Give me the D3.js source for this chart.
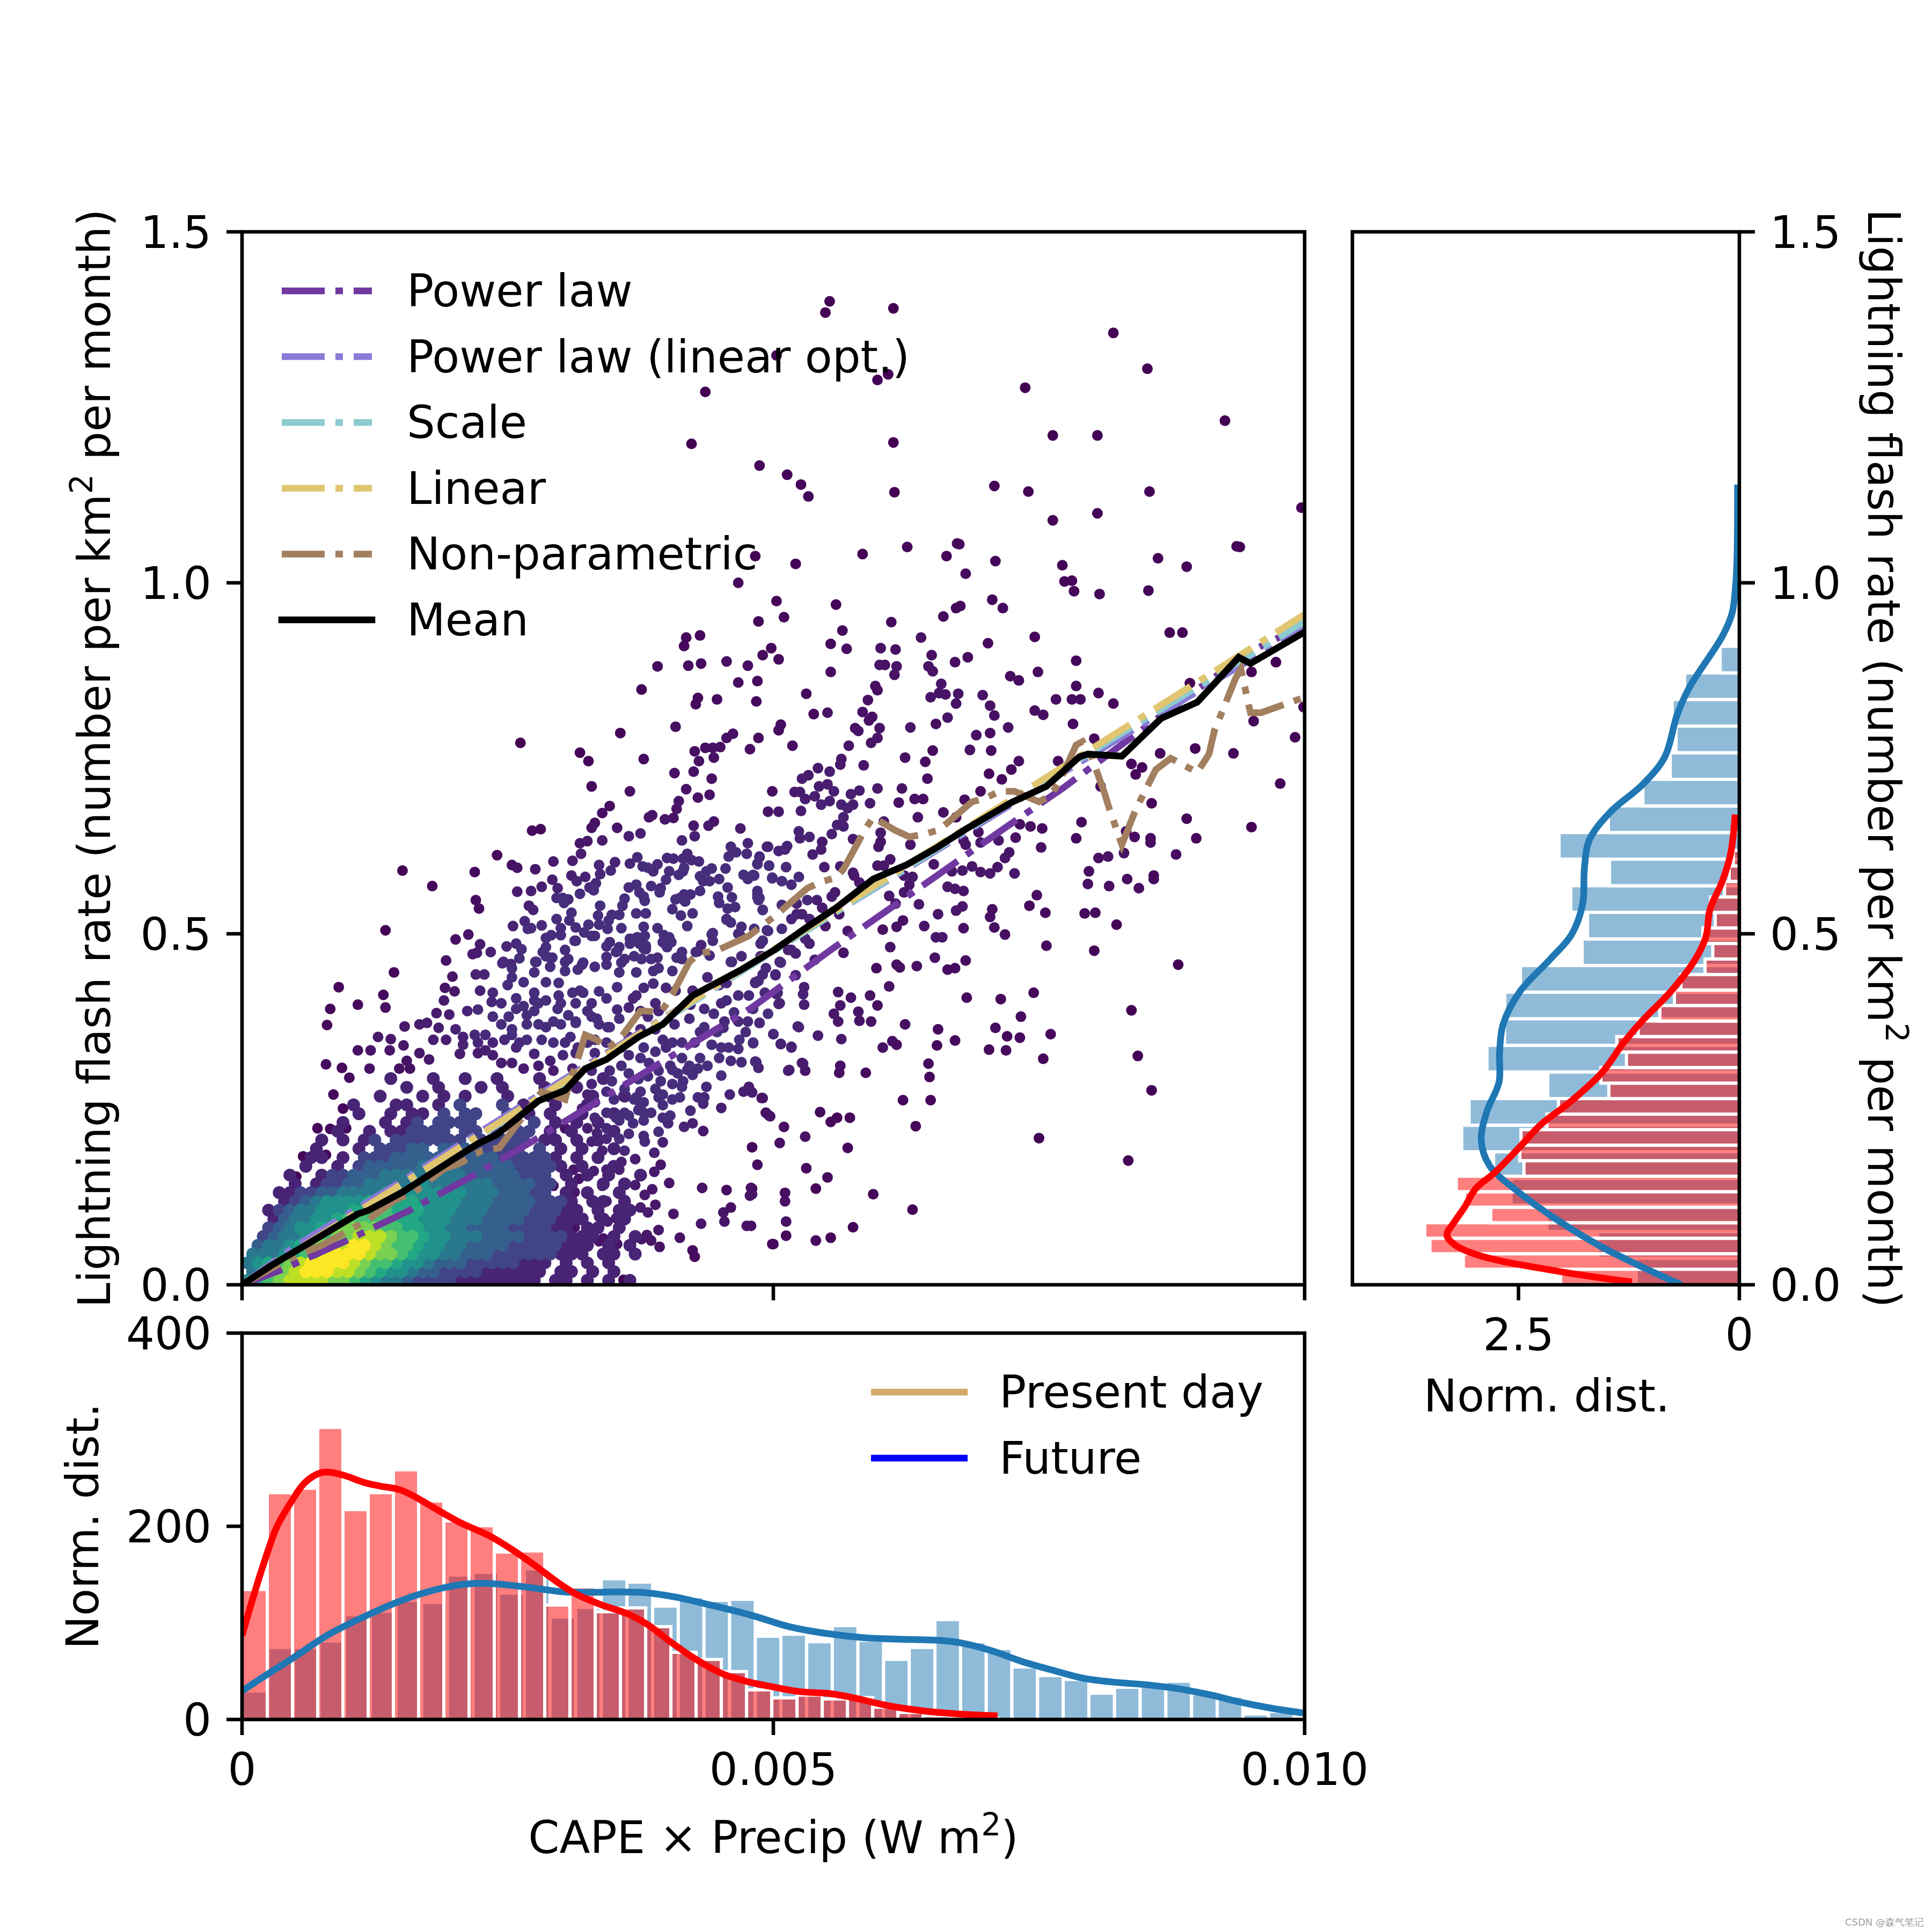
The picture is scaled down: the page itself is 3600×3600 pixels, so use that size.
<!DOCTYPE html>
<html>
<head>
<meta charset="utf-8">
<script src="https://cdn.jsdelivr.net/npm/d3@7"></script>
<style>
  body { margin: 0; background: #fff; }
  text { font-family: "DejaVu Sans"; fill: #000; }
</style>
</head>
<body>
<svg id="chart" width="3600" height="3600"></svg>
<script>
// x values below are in units of 1e-3 (W m2), y in flashes per km2 per month
const scatterPoints = [
[5.53,1.401],[5.49,1.385],[6.13,1.391],[8.20,1.356],[8.52,1.305],[5.03,1.324],[6.08,1.297],[5.98,1.289],[7.37,1.278],[9.25,1.231],
[7.63,1.210],[8.05,1.210],[6.13,1.200],[4.87,1.167],[5.13,1.154],[5.26,1.140],[5.33,1.123],[6.14,1.129],[7.08,1.138],[7.40,1.130],
[8.54,1.130],[7.63,1.089],[8.05,1.099],[9.97,1.107],[6.26,1.051],[6.75,1.055],[9.39,1.051],[4.23,1.198],[4.36,1.272],[4.83,1.038],
[5.21,1.027],[5.84,1.041],[4.67,1.000],[5.03,0.974],[5.59,0.969],[4.86,0.945],[5.10,0.951],[6.11,0.944],[5.65,0.932],[4.18,0.922],
[4.31,0.925],[4.16,0.910],[4.98,0.907],[5.54,0.913],[5.69,0.906],[6.01,0.907],[6.15,0.905],[6.39,0.922],
[6.73,1.056],[6.63,1.038],[7.09,1.031],[6.81,1.013],[7.72,1.025],[7.74,1.002],[7.81,1.003],[7.83,0.988],[8.07,0.984],[8.62,1.035],
[8.89,1.023],[9.36,1.052],[8.53,0.989],[7.06,0.976],[6.72,0.964],[6.76,0.967],[7.16,0.964],[6.60,0.952],[4.90,0.897],[5.05,0.891],
[7.02,0.914],[7.46,0.923],[6.49,0.897],[6.83,0.894],[6.71,0.887],[6.00,0.883],[6.05,0.883],[6.16,0.881],[6.14,0.869],[6.46,0.881],
[6.50,0.874],[5.54,0.873],[4.85,0.860],[7.85,0.889],[7.49,0.873],[7.23,0.867],[7.31,0.861],[8.73,0.929],[8.85,0.929],[8.92,0.857],
[9.73,0.887],[9.50,0.873],[7.85,0.853],[8.06,0.843],[7.66,0.834],[7.81,0.834],[7.89,0.834],[8.20,0.828],[5.31,0.842],[4.84,0.831],
[5.96,0.853],[5.98,0.847],[5.89,0.833],[6.58,0.856],[6.56,0.843],[6.62,0.841],[6.48,0.837],[6.74,0.842],[6.72,0.828],[6.97,0.840],
[7.04,0.825],[7.08,0.811],[7.46,0.818],[7.54,0.812],[7.82,0.799],[6.64,0.808],[6.53,0.799],[6.29,0.794],[7.21,0.794],[5.84,0.816],
[5.93,0.809],[5.90,0.804],[6.00,0.793],[5.38,0.813],[5.51,0.815],[5.77,0.793],[5.80,0.789],[5.98,0.779],[5.92,0.772],[5.07,0.798],
[5.05,0.790],[4.86,0.779],[5.18,0.768],[5.71,0.768],[6.91,0.783],[7.04,0.786],[7.05,0.761],[6.85,0.762],[6.50,0.761],[6.24,0.751],
[6.43,0.745],[8.30,0.788],[8.02,0.778],[8.64,0.757],[8.97,0.764],[9.33,0.757],[9.91,0.780],[9.52,0.803],[9.99,0.823],[7.31,0.746],
[7.24,0.734],[7.68,0.746],[7.03,0.728],[7.15,0.720],[6.45,0.721],[5.85,0.740],[5.64,0.749],[5.63,0.741],[5.42,0.736],[5.53,0.731],
[5.33,0.726],[5.27,0.721],[4.99,0.703],[5.20,0.702],[5.25,0.702],[5.30,0.692],[5.43,0.710],[5.51,0.713],[5.39,0.696],[5.45,0.684],
[5.53,0.689],[5.57,0.703],[5.73,0.699],[5.81,0.704],[5.75,0.684],[5.64,0.684],[5.70,0.679],[5.91,0.686],[5.98,0.707],[6.21,0.707],
[6.18,0.687],[6.33,0.692],[6.41,0.692],[6.80,0.691],[6.95,0.703],[6.60,0.673],[6.36,0.666],[6.72,0.666],[6.04,0.660],[5.66,0.666],
[5.60,0.655],[5.66,0.653],[4.95,0.674],[5.05,0.674],[5.26,0.675],[8.08,0.710],[8.37,0.742],[8.47,0.737],[8.41,0.727],[9.77,0.714],
[8.56,0.686],[7.90,0.659],[8.89,0.664],[9.50,0.652],[8.98,0.636],[7.85,0.636],[8.40,0.638],[8.55,0.636],[8.55,0.630],[8.32,0.646],
[7.53,0.650],[7.42,0.653],[7.32,0.656],[7.28,0.637],[7.52,0.623],[7.22,0.616],[7.18,0.608],[7.11,0.595],[7.04,0.586],[6.95,0.588],
[7.27,0.586],[6.87,0.596],[6.78,0.590],[6.68,0.589],[6.51,0.599],[8.30,0.615],[8.15,0.610],[8.06,0.608],[8.79,0.613],[7.97,0.589],
[8.33,0.578],[8.58,0.583],[8.58,0.578],[7.96,0.571],[8.16,0.568],[8.44,0.565],[6.93,0.645],[6.79,0.633],[6.81,0.627],[6.95,0.630],
[7.12,0.633],[6.29,0.627],[6.01,0.644],[6.01,0.631],[5.99,0.624],[5.55,0.642],[5.75,0.635],[5.24,0.646],[5.25,0.636],[5.34,0.638],
[5.46,0.631],[5.45,0.620],[5.37,0.613],[5.13,0.625],[5.11,0.620],[5.05,0.618],[4.95,0.624],[4.87,0.609],[4.85,0.599],[4.96,0.597],
[5.12,0.595],[4.82,0.583],[4.99,0.579],[5.08,0.575],[5.17,0.570],[5.24,0.581],[5.48,0.595],[5.63,0.596],[5.75,0.587],[5.76,0.583],
[5.81,0.573],[5.98,0.597],[6.04,0.597],[6.10,0.606],[6.23,0.583],[6.31,0.581],[6.28,0.570],[6.23,0.559],[6.09,0.554],[6.15,0.543],
[6.37,0.542],[6.55,0.528],[6.22,0.519],[6.16,0.510],[6.03,0.506],[6.42,0.511],[6.64,0.567],[6.71,0.564],[6.79,0.561],[6.72,0.533],
[6.78,0.539],[6.79,0.508],[7.06,0.535],[7.04,0.524],[7.08,0.509],[7.18,0.499],[6.53,0.495],[6.59,0.495],[6.10,0.481],[7.48,0.555],
[7.41,0.540],[7.56,0.530],[7.93,0.529],[8.03,0.530],[8.23,0.513],[7.57,0.483],[8.02,0.476],[8.81,0.456],[6.52,0.466],[5.97,0.451],
[6.16,0.456],[6.19,0.452],[6.35,0.454],[6.64,0.449],[6.71,0.451],[6.81,0.462],[6.09,0.425],[5.61,0.417],[5.73,0.409],[5.91,0.412],
[5.98,0.398],[5.63,0.398],[5.29,0.424],[5.28,0.414],[5.29,0.399],[5.05,0.400],[5.03,0.414],[5.57,0.386],[5.80,0.389],[6.82,0.409],
[7.14,0.407],[7.45,0.416],[8.37,0.391],[7.33,0.382],[5.66,0.473],[5.39,0.463],[5.21,0.441],[5.07,0.459],[5.02,0.441],[5.17,0.477],
[5.21,0.472],[4.93,0.451],[4.90,0.442],[4.86,0.433],[4.83,0.431],[5.70,0.504],[5.30,0.493],[5.34,0.486],[4.90,0.490],[4.95,0.504],
[5.08,0.507],[5.49,0.511],[5.17,0.521],[5.22,0.528],[5.27,0.528],[5.34,0.521],[4.90,0.534],[5.08,0.541],[5.22,0.543],[5.32,0.548],
[5.41,0.548],[5.46,0.537],[5.55,0.553],[5.58,0.559],[5.62,0.528],[4.85,0.552],[4.86,0.548],
[5.61,0.375],[5.81,0.376],[5.92,0.375],[6.24,0.371],[6.55,0.364],[6.71,0.348],[6.54,0.341],[7.09,0.366],[7.20,0.354],[7.32,0.352],
[7.61,0.357],[7.03,0.335],[7.19,0.334],[7.54,0.322],[8.43,0.326],[8.56,0.277],[7.50,0.209],[8.34,0.177],[6.46,0.315],[6.47,0.296],
[6.22,0.263],[6.48,0.263],[6.34,0.226],[6.12,0.347],[6.16,0.342],[6.03,0.338],[5.64,0.350],[5.42,0.355],[5.24,0.367],[5.00,0.357],
[4.87,0.373],[5.07,0.343],[5.17,0.338],[4.81,0.344],[5.28,0.315],[5.30,0.305],[5.14,0.305],[5.63,0.312],[5.62,0.302],[5.87,0.302],
[4.83,0.318],[4.86,0.309],[4.89,0.266],[4.80,0.274],[4.93,0.245],[4.96,0.241],[5.10,0.225],[5.44,0.246],[5.54,0.232],[5.60,0.238],
[5.72,0.238],[5.30,0.211],[5.06,0.202],[5.70,0.195],[4.80,0.196],[4.85,0.171],[5.31,0.166],[5.51,0.153],[5.40,0.137],[5.11,0.131],
[5.11,0.119],[5.94,0.129],[6.31,0.107],[5.12,0.090],[5.12,0.070],[5.75,0.082],[5.54,0.067],[5.40,0.063],[5.00,0.058],[4.80,0.137],
[4.80,0.129],[4.79,0.084],
[3.91,0.881],[4.20,0.882],[4.32,0.885],[4.56,0.888],[4.76,0.882],[3.76,0.848],[4.67,0.858],[4.29,0.836],[4.27,0.827],[4.47,0.834],
[4.08,0.795],[3.56,0.786],[4.62,0.785],[4.56,0.779],[2.62,0.772],[4.26,0.760],[4.36,0.765],[4.43,0.765],[4.50,0.766],[4.78,0.763],
[3.18,0.758],[3.26,0.746],[3.78,0.749],[4.30,0.746],[4.44,0.751],[4.07,0.729],[4.25,0.731],[4.42,0.721],[3.29,0.710],[3.65,0.703],
[4.18,0.706],[4.29,0.694],[4.40,0.698],[4.11,0.689],[4.09,0.678],[3.46,0.682],[3.39,0.672],[3.86,0.669],[3.83,0.666],[3.98,0.663],
[4.06,0.665],[3.32,0.658],[3.29,0.651],[3.53,0.651],[4.25,0.654],[4.44,0.660],[4.39,0.654],[4.69,0.650],[2.81,0.649],[2.73,0.647],
[3.75,0.643],[3.64,0.639],[4.26,0.639],[4.14,0.633],[3.39,0.633],[3.25,0.632],[3.18,0.629],[4.60,0.624],[4.76,0.629],[4.94,0.624],
[3.19,0.614],[2.40,0.612],[4.65,0.616],[4.75,0.614],[4.58,0.610],[4.87,0.610],[4.19,0.614],[3.72,0.609],[4.00,0.608],[4.06,0.607],
[4.15,0.607],[4.23,0.605],[4.30,0.603],[2.93,0.603],[3.11,0.604],[3.51,0.602],[3.65,0.600],[2.54,0.598],[2.59,0.594],[2.76,0.592],
[3.36,0.598],[3.77,0.596],[3.91,0.599],[3.82,0.594],[3.87,0.589],[3.47,0.590],[3.37,0.585],[4.16,0.594],[4.15,0.589],[4.02,0.589],
[4.11,0.584],[4.42,0.593],[4.37,0.589],[4.55,0.593],[4.85,0.600],[4.96,0.597],[1.51,0.590],[2.19,0.588],[3.10,0.583],[4.31,0.582],
[4.72,0.584],[4.81,0.584],[4.76,0.578],[4.99,0.580],[3.23,0.581],[2.92,0.577],[3.15,0.575],[3.99,0.577],[4.34,0.575],[4.40,0.575],
[4.49,0.578],[3.33,0.572],[3.85,0.568],[3.94,0.565],[3.64,0.566],[3.71,0.570],[3.74,0.559],[2.82,0.567],[2.97,0.565],[3.27,0.566],
[3.31,0.562],[1.79,0.568],[4.57,0.566],[4.31,0.561],[2.59,0.560],[2.72,0.561],[3.93,0.559],[4.85,0.561],[4.85,0.556],[3.18,0.557],
[4.16,0.556],[4.22,0.556],[4.48,0.553],[4.61,0.552],[4.87,0.551],[2.96,0.551],[3.02,0.551],[3.07,0.549],[3.60,0.550],[3.78,0.553],
[4.08,0.549],[4.12,0.551],[4.17,0.546],[2.20,0.548],[3.03,0.544],[3.79,0.547],[4.49,0.544],[4.64,0.538],[2.23,0.536],[2.70,0.540],
[2.74,0.534],[3.37,0.540],[3.58,0.540],[4.05,0.535],[4.57,0.536],[4.90,0.534],[3.10,0.530],[3.71,0.529],[3.80,0.529],[4.13,0.526],
[4.24,0.529],[3.35,0.526],[3.48,0.527],[3.55,0.527],[2.96,0.521],[2.66,0.518],[3.08,0.519],[3.45,0.519],[4.56,0.521],[4.60,0.516],
[1.35,0.505],[2.55,0.511],[2.82,0.512],[3.26,0.513],[3.14,0.509],[3.36,0.513],[3.44,0.507],[3.57,0.508],[3.78,0.510],[3.91,0.508],
[4.19,0.511],[4.70,0.510],[4.82,0.507],[2.69,0.507],[4.43,0.501],[4.67,0.500],[4.94,0.505],[2.13,0.499],[2.91,0.498],[3.00,0.498],
[3.22,0.502],[3.32,0.497],[3.79,0.497],[3.97,0.498],[4.02,0.495],[2.01,0.492],[3.13,0.490],[3.46,0.488],[3.65,0.493],[3.72,0.495],
[3.96,0.488],[4.04,0.488],[4.43,0.490],[4.90,0.490],[3.65,0.486],[3.74,0.486],[2.24,0.485],[2.49,0.482],[3.55,0.481],[3.80,0.483],
[4.00,0.481],[2.86,0.481],[4.32,0.484],[2.63,0.478],[3.04,0.477],[3.80,0.478],[2.34,0.474],[2.21,0.473],[2.17,0.471],[3.52,0.474],
[2.83,0.474],[2.92,0.466],[2.86,0.468],[4.14,0.474],[4.27,0.474],[4.40,0.469],[1.92,0.462],[2.61,0.465],[3.43,0.467],[3.69,0.468],
[3.91,0.466],[3.85,0.464],[3.76,0.464],[4.09,0.466],[4.61,0.460],[4.89,0.468],[2.46,0.460],[2.53,0.457],[2.76,0.460],[3.07,0.464],
[3.21,0.459],[3.57,0.459],[3.43,0.456],
[1.43,0.445],[0.91,0.424],[1.33,0.413],[1.09,0.399],[1.35,0.395],[0.83,0.393],[0.80,0.370],[1.98,0.439],[2.20,0.442],[2.28,0.442],
[1.91,0.423],[2.00,0.418],[2.24,0.419],[1.90,0.405],[1.83,0.387],[1.95,0.385],[2.12,0.390],[2.22,0.392],[2.36,0.416],[2.35,0.403],
[2.50,0.427],[2.65,0.431],[2.45,0.458],[2.54,0.451],[2.54,0.438],[2.75,0.445],[2.77,0.460],[2.90,0.466],[2.86,0.431],[2.98,0.430],
[3.16,0.449],[3.04,0.447],[3.53,0.475],[3.46,0.488],[3.68,0.492],[3.71,0.445],[3.87,0.447],[3.55,0.445],[3.36,0.418],[3.18,0.419],
[3.53,0.424],[3.78,0.423],[3.87,0.429],[3.98,0.486],[4.14,0.464],[4.29,0.475],[4.42,0.499],[4.56,0.520],[4.69,0.497],[4.88,0.486],
[5.14,0.477],[5.06,0.460],[5.02,0.442],[5.04,0.416],[5.06,0.401],[5.23,0.368],[5.00,0.357],[5.07,0.343],[5.17,0.339],[4.87,0.373],
[4.76,0.375],[4.81,0.345],[4.68,0.349],[4.56,0.405],[4.63,0.388],[4.54,0.375],[4.53,0.366],[4.35,0.367],[4.21,0.379],[4.22,0.399],
[4.44,0.386],[4.05,0.345],[3.99,0.338],[4.42,0.342],[4.51,0.338],[4.58,0.338],[4.67,0.336],[4.26,0.345],[4.31,0.323],[4.14,0.323],
[3.89,0.332],[3.83,0.316],[3.78,0.338],[3.64,0.327],[3.57,0.312],[3.82,0.297],[4.03,0.312],[4.05,0.306],[3.94,0.290],[4.60,0.319],
[4.70,0.317],[4.84,0.317],[5.15,0.306],[5.27,0.316],[4.51,0.298],[4.19,0.306],[4.24,0.299],[4.15,0.290],[4.14,0.282],[4.37,0.282],
[4.77,0.282],[4.72,0.275],[4.59,0.271],[4.35,0.267],[4.29,0.267],[4.90,0.266],[4.34,0.258],[4.05,0.264],[4.12,0.267],[3.96,0.256],
[4.22,0.248],[4.51,0.252],[4.93,0.245],[4.97,0.240],[4.03,0.241],[3.96,0.238],[4.01,0.230],[4.16,0.225],[4.24,0.230],[4.34,0.219],
[3.92,0.218],[3.78,0.212],[3.79,0.204],[3.96,0.203],[3.78,0.245],[3.73,0.249],[3.64,0.241],[3.60,0.245],[3.75,0.256],[3.71,0.267],
[3.52,0.238],[3.43,0.223],[3.55,0.208],[3.64,0.215],[3.43,0.208],[3.34,0.216],[3.25,0.223],[3.15,0.204],[3.29,0.204],[3.39,0.191],
[3.60,0.191],[3.88,0.188],[3.70,0.179],[3.94,0.171],[3.57,0.175],[3.43,0.164],[3.55,0.164],[3.31,0.162],[3.12,0.164],[3.76,0.156],
[3.88,0.161],[4.02,0.145],[3.17,0.151],[3.39,0.141],[3.70,0.142],[3.86,0.136],[3.79,0.128],[3.60,0.121],[3.43,0.119],[3.32,0.116],
[4.33,0.138],[4.56,0.135],[4.79,0.138],[4.78,0.127],[4.60,0.110],[4.53,0.103],[4.54,0.090],[4.32,0.087],[4.75,0.084],[4.06,0.101],
[3.75,0.110],[3.89,0.114],[3.82,0.103],[4.99,0.058],[3.92,0.078],[3.76,0.065],[3.81,0.071],[3.85,0.063],[3.93,0.054],[4.12,0.067],
[4.24,0.049],[4.26,0.040],[3.59,0.007],[3.53,0.058],[3.36,0.062],[3.40,0.066],[3.27,0.079],[3.55,0.082],[3.44,0.090],[3.36,0.097],
[3.52,0.095],[3.21,0.095],[3.13,0.082],[3.04,0.104],[3.07,0.130],[3.13,0.132],[2.98,0.119],[2.93,0.141],[2.86,0.138],
[0.51,0.154],[0.575,0.183],[0.79,0.185],[0.71,0.223],[0.83,0.222],[0.98,0.223],[0.95,0.251],[0.86,0.271],[1.01,0.295],[0.79,0.314],
[0.94,0.309],[1.20,0.308],[1.21,0.334],[1.09,0.334],[1.28,0.353],[1.40,0.350],[1.53,0.368],[1.67,0.371],[1.74,0.373],[1.52,0.341],
[1.39,0.334],[1.48,0.308],[1.58,0.308],[1.55,0.319],[1.67,0.330],[1.76,0.321],[1.85,0.366],[1.80,0.349],[1.92,0.349],[2.01,0.364],
[2.08,0.353],[2.19,0.356],[2.22,0.345],[2.05,0.329],[2.29,0.334],[2.36,0.327],[2.44,0.316],[2.54,0.316],[2.65,0.308],[2.75,0.329],
[2.58,0.338],[2.54,0.356],[2.68,0.349],[2.86,0.367],[2.79,0.371],[3.00,0.371],[3.14,0.375],[3.04,0.345],[3.16,0.338],[3.36,0.371],
[3.46,0.367],[3.32,0.349],[2.44,0.371],[2.36,0.382],[2.51,0.382],[2.68,0.384],[3.00,0.401],[2.86,0.405],[2.97,0.393],[2.75,0.405],
[2.58,0.408],[2.65,0.397],[3.25,0.390],[3.34,0.379],[3.14,0.401],[3.29,0.401],[3.21,0.416],[3.43,0.408],[3.53,0.392],[3.68,0.408],
[3.75,0.390],[3.92,0.390],
[2.58,0.486],[2.72,0.508],[2.86,0.494],[3.00,0.508],[3.14,0.490],[3.29,0.497],[3.04,0.460],[2.90,0.453],[3.20,0.456],[3.32,0.453],
[3.43,0.482],[3.60,0.464],[3.71,0.494],[3.78,0.479],[2.75,0.416],[2.98,0.412],[3.11,0.416],[2.79,0.401],[3.07,0.384],[3.14,0.373],
[3.29,0.382],[3.44,0.367],[3.55,0.379],[3.71,0.412],[3.64,0.395],[3.82,0.382],[3.89,0.401],[3.99,0.423],[4.05,0.447],[3.92,0.451],
[2.44,0.401],[2.58,0.393],[2.75,0.390],[2.93,0.375],[2.68,0.371],[2.54,0.364],[2.29,0.356],[2.08,0.342],[2.22,0.330],[2.36,0.345],
[2.47,0.349],[2.61,0.345],[2.82,0.349],[2.93,0.345],[3.09,0.353],[3.25,0.345],[3.43,0.345],[3.57,0.338],[3.14,0.330],[3.32,0.330],
[3.02,0.327],[2.90,0.319],[2.79,0.312],[2.93,0.305],[3.11,0.308],[3.29,0.305],[3.46,0.305],[3.64,0.301],[3.73,0.293],[3.48,0.290],
[3.29,0.286],[3.11,0.284],[3.25,0.271],[3.43,0.275],[3.60,0.279],[3.75,0.275],[3.89,0.279],[3.92,0.267],[3.78,0.260],[3.50,0.264],
[3.32,0.260],[3.20,0.251],[3.43,0.245],[3.32,0.238],[3.14,0.234],[3.04,0.223],[3.55,0.234],[3.68,0.230],[3.78,0.234],[3.69,0.264],
[3.85,0.245],[3.96,0.271],[4.05,0.286],[4.10,0.301],[3.92,0.305],[3.75,0.323],[4.21,0.312],[4.29,0.308],[4.38,0.312],[4.49,0.323],
[4.07,0.371],[3.89,0.364],[3.75,0.364],[3.64,0.353],[3.96,0.349],[4.14,0.345],[4.31,0.360],[4.47,0.360],[4.67,0.375],[4.35,0.393],
[4.51,0.401],[4.24,0.419],[4.08,0.419],[4.49,0.427],[4.38,0.438],[4.56,0.430],[4.60,0.460],[4.70,0.468],[4.88,0.468],[4.83,0.430],
[4.92,0.416],[4.77,0.412],[4.67,0.412],[4.81,0.393],[4.95,0.386],[4.74,0.360]
];

// colour levels (tenths of the colour bar) of the packed cloud near the origin,
// read off row by row, top row first; columns step 0.1e-3 in x, rows 0.0125 in y
const cloudStepX = 0.1;
const cloudStepY = 0.0125;
const cloudRows = [
".............1...1..1..1...1.....1....",
"...............1..1...1.1...1..1......",
"............1...1.1.1...1...1...1..1.",
"..........1...11..1.2...2.1..1..1....",
"..........1..1.11.2.22..2.1.1..1..1..",
".........1...1.12.2222...2.2.1.1.1...",
"........1..1.112222.22.2.22.1.1...1..",
".......1.1.12.2222222.22222.11.1.1...",
"......1...1.22233.33322222.2.1.1..1..",
"......11.1.2223333333333222221.1.1....",
".....1..1.23333344443333322221.1..1...",
"....1..1223334444444433333222.1.1.1..1",
"....1.12233444445444444333322.1..1.1..",
"...11223344445555555544433322.1.1..1..",
"...1234555566666555544433332221.11.1.",
"..123445556667666555444333322211.1.11",
"..134455677777665554443333222111.1.1.",
"..23455678888776655443333222211.11.1.",
".23445678899987765544433332222111.1.1",
".344567899aa987765544333322222111.1.1",
"4445678aaaa988765544333222222111.11.1",
"456789aaaa9877655433322222111.1.1.1",
"46789aaa99876554332222111111.11.1.1..",
"5678999988765443222211111111.11.1.1.1"
];

const powerLaw = [[0,0],[0.365,0.021],[0.97,0.062],[1.59,0.107],[2.18,0.156],[2.75,0.206],[3.29,0.256],[3.87,0.310],[4.79,0.394],[5.54,0.477],[6.21,0.548],[7.20,0.653],[7.73,0.708],[8.30,0.772],[8.97,0.846],[9.50,0.903],[10,0.94]];
const powerLawLinear = [[0,0],[0.5,0.055],[1.46,0.1436],[3,0.29],[5,0.476],[8.16,0.77],[10,0.937]];
const scaleFit = [[0,0],[1.46,0.1385],[5,0.475],[8.16,0.775],[10,0.945]];
const linearFit = [[0,0],[10,0.955]];
const nonParametric = [[0,0],[0.45,0.038],[0.75,0.056],[1.19,0.093],[1.44,0.121],[1.62,0.132],[1.90,0.165],[2.05,0.173],[2.19,0.186],[2.26,0.191],[2.42,0.195],[2.56,0.223],[2.82,0.275],[3.04,0.264],[3.09,0.293],[3.14,0.312],[3.23,0.356],[3.34,0.349],[3.43,0.336],[3.55,0.349],[3.75,0.390],[3.80,0.390],[3.94,0.388],[4.03,0.408],[4.21,0.460],[4.31,0.473],[4.45,0.475],[4.77,0.497],[5.02,0.526],[5.32,0.565],[5.45,0.574],[5.59,0.580],[5.66,0.592],[5.80,0.631],[5.86,0.648],[5.94,0.666],[6.14,0.648],[6.28,0.638],[6.42,0.642],[6.56,0.648],[6.87,0.688],[6.99,0.693],[7.13,0.703],[7.27,0.703],[7.50,0.688],[7.61,0.697],[7.70,0.719],[7.85,0.769],[7.91,0.774],[8.00,0.750],[8.12,0.699],[8.16,0.679],[8.28,0.627],[8.40,0.673],[8.46,0.692],[8.60,0.734],[8.74,0.750],[8.99,0.730],[9.10,0.756],[9.15,0.789],[9.35,0.864],[9.40,0.877],[9.49,0.815],[9.59,0.815],[10,0.837]];
const meanLine = [[0,0],[0.27,0.027],[0.66,0.062],[1.09,0.101],[1.19,0.106],[1.51,0.132],[1.97,0.177],[2.22,0.201],[2.40,0.214],[2.79,0.262],[3.04,0.277],[3.23,0.308],[3.43,0.321],[3.73,0.353],[3.96,0.371],[4.24,0.412],[4.70,0.449],[5.01,0.477],[5.32,0.510],[5.59,0.537],[5.94,0.578],[6.25,0.598],[6.53,0.622],[6.81,0.649],[7.24,0.687],[7.57,0.710],[7.88,0.752],[7.96,0.756],[8.28,0.753],[8.65,0.807],[8.99,0.830],[9.38,0.894],[9.49,0.885],[10,0.930]];

const fitLabels = ["Power law","Power law (linear opt.)","Scale","Linear","Non-parametric","Mean"];
const fitColors = ["#7038a0","#8a7ad6","#8ccbcf","#e0c670","#a27f5f","#000000"];

// histogram along x, bars from x = 0
const presentBinX = 0.2374;
const presentHistX = [134.6,234.8,239.4,302.4,217.3,234.8,258.5,226.2,205.7,200.6,173.4,174.5,118.5,137.3,111.5,115.5,96.1,69.5,62.2,49.6,30.7,22.4,25.3,21.3,22.6,12.7,7.3,3.8,2.4,1];
const futureBinX = 0.2415;
const futureHistX = [29.6,74.6,74.6,81.3,108.5,112,123.3,121.2,149.5,152.4,130.9,155.9,106.1,116,145.7,142.2,117.4,127.1,123.3,124.4,86.2,88.3,80.5,97.2,81.9,62.2,74.6,103.4,80.5,73.5,54.4,45.5,41.5,27.2,33.4,36,39.6,26.7,24.2,5.7,8.3,2.4];
const presentKdeX = [[0,87],[0.097,123.6],[0.20,160],[0.33,200],[0.45,223],[0.59,245],[0.73,255],[0.82,256],[0.95,253],[1.16,245],[1.30,241.6],[1.48,238],[1.62,231],[1.87,215],[2.05,204],[2.33,190],[2.54,176],[2.75,160],[2.97,142],[3.14,130],[3.36,119.6],[3.64,108.8],[3.82,98],[4.03,80.5],[4.28,61.7],[4.53,46.9],[4.77,38.8],[5.01,33.4],[5.25,28.8],[5.54,26.7],[5.75,22.6],[6.07,14.5],[6.35,9.7],[6.64,6.5],[7.11,3.8]];
const futureKdeX = [[0,29.4],[0.24,46.9],[0.49,64.4],[0.80,87],[1.16,107],[1.51,123.6],[1.87,135.7],[2.15,140.6],[2.36,140.6],[2.68,137],[3.04,132],[3.29,131.7],[3.57,132],[3.82,131],[4.10,126.3],[4.35,120],[4.79,108],[5.15,96],[5.50,89],[5.86,84.6],[6.21,83],[6.56,81.9],[6.78,79],[7.06,71],[7.34,60],[7.63,51],[7.91,42.8],[8.19,38.8],[8.55,35.5],[8.83,31.5],[9.12,25.3],[9.40,17.8],[9.68,11.8],[10,6.5]];
const periodLabels = ["Present day","Future"];
const periodColors = ["#d4a96a","#0000ff"];

// histogram along y, bars from y = 0
const presentBinY = 0.0221;
const presentHistY = [2.023,3.124,3.502,3.561,2.814,3.111,3.204,2.438,2.485,2.472,2.178,2.047,1.477,1.567,1.278,1.387,1.145,0.900,0.735,0.661,0.388,0.301,0.413,0.273,0.326,0.168,0.115,0.068];
const futureBinY = 0.0379;
const futureHistY = [1.166,1.604,2.178,2.584,2.782,3.142,3.059,2.168,2.857,2.658,2.655,2.478,1.78,1.719,1.908,1.470,2.041,1.483,1.092,0.782,0.717,0.760,0.620,0.217];
const presentKdeY = [[1.216,0.004],[2.023,0.0187],[2.953,0.042],[3.232,0.058],[3.31,0.071],[3.217,0.091],[3.108,0.111],[2.984,0.137],[2.767,0.160],[2.488,0.196],[2.24,0.229],[1.929,0.259],[1.557,0.302],[1.309,0.345],[1.092,0.377],[0.782,0.417],[0.502,0.463],[0.378,0.496],[0.332,0.535],[0.192,0.575],[0.099,0.614],[0.047,0.670]];
const futureKdeY = [[0.658,0],[1.154,0.0286],[1.588,0.056],[2.085,0.0944],[2.519,0.134],[2.829,0.170],[2.922,0.206],[2.860,0.246],[2.720,0.289],[2.714,0.331],[2.674,0.371],[2.488,0.417],[2.147,0.463],[1.899,0.499],[1.774,0.542],[1.753,0.595],[1.697,0.634],[1.464,0.673],[1.092,0.713],[0.844,0.752],[0.704,0.812],[0.565,0.851],[0.192,0.924],[0.084,0.956],[0.047,0.989],[0.028,1.029],[0.02,1.14]];

const svg = d3.select("#chart");
const FONT = 83.3;
const SPINE = 6.6;
const LINE = 12.5;
const TICK = 29;
const PAD = 28;

const main = { left: 451, right: 2431, top: 432, bottom: 2394 };
const lower = { left: 451, right: 2431, top: 2484, bottom: 3204 };
const side = { left: 2520, right: 3241, top: 432, bottom: 2394 };

const x = d3.scaleLinear().domain([0, 10]).range([main.left, main.right]);
const y = d3.scaleLinear().domain([0, 1.5]).range([main.bottom, main.top]);
const yLower = d3.scaleLinear().domain([0, 400]).range([lower.bottom, lower.top]);
const xSide = d3.scaleLinear().domain([4.38, 0]).range([side.left, side.right]);

// clip regions, matplotlib clips marks at the axes box
function addClip(id, b) {
  svg.append("clipPath").attr("id", id).append("rect")
    .attr("x", b.left).attr("y", b.top)
    .attr("width", b.right - b.left).attr("height", b.bottom - b.top);
}
addClip("clip-main", main);
addClip("clip-lower", lower);
addClip("clip-side", side);

// ---- scatter ----
const dots = scatterPoints.map(p => {
  // neighbours decide the colour, dense spots go lighter
  const n = scatterPoints.filter(q => Math.abs(q[0] - p[0]) < 0.5 && Math.abs(q[1] - p[1]) < 0.05).length;
  return { x: p[0], y: p[1], t: Math.min(0.13, n * 0.003), packed: false };
});
cloudRows.forEach((row, r) => {
  const j = cloudRows.length - 1 - r;
  row.split("").forEach((c, i) => {
    if (c === ".") return;
    // every other row sits half a column over, the cloud has no straight columns
    dots.push({ x: (i + 0.5 + (j % 2) * 0.5) * cloudStepX, y: (j + 0.5) * cloudStepY, t: parseInt(c, 16) / 10, packed: true });
  });
});
dots.sort((a, b) => a.t - b.t);

const mainLayer = svg.append("g").attr("clip-path", "url(#clip-main)");
mainLayer.append("g").selectAll("circle")
  .data(dots)
  .join("circle")
  .attr("cx", d => x(d.x))
  .attr("cy", d => y(d.y))
  .attr("r", d => d.packed ? 12 : 10)
  .attr("fill", d => d3.interpolateViridis(d.t));

// ---- fitted lines ----
const fitLine = d3.line().x(d => x(d[0])).y(d => y(d[1]));
const DASH = "80 20 14 20";
[powerLaw, powerLawLinear, scaleFit, linearFit, nonParametric, meanLine].forEach((series, i) => {
  mainLayer.append("path")
    .attr("d", fitLine(series))
    .attr("fill", "none")
    .attr("stroke", fitColors[i])
    .attr("stroke-width", LINE)
    .attr("stroke-dasharray", i < 5 ? DASH : null);
});

// ---- histograms along x ----
const lowerLayer = svg.append("g").attr("clip-path", "url(#clip-lower)");
function barsX(values, bin, color) {
  lowerLayer.append("g").selectAll("rect")
    .data(values)
    .join("rect")
    .attr("x", (d, i) => x(i * bin))
    .attr("width", x(bin) - x(0))
    .attr("y", d => yLower(d))
    .attr("height", d => yLower(0) - yLower(d))
    .attr("fill", color)
    .attr("fill-opacity", 0.5)
    .attr("stroke", "#fff")
    .attr("stroke-width", 6);
}
barsX(futureHistX, futureBinX, "#1f77b4");
barsX(presentHistX, presentBinX, "#ff0000");

const kdeX = d3.line().x(d => x(d[0])).y(d => yLower(d[1])).curve(d3.curveCatmullRom);
lowerLayer.append("path").attr("d", kdeX(futureKdeX)).attr("fill", "none").attr("stroke", "#1f77b4").attr("stroke-width", LINE);
lowerLayer.append("path").attr("d", kdeX(presentKdeX)).attr("fill", "none").attr("stroke", "#ff0000").attr("stroke-width", LINE);

// ---- histograms along y ----
const sideLayer = svg.append("g").attr("clip-path", "url(#clip-side)");
function barsY(values, bin, color) {
  sideLayer.append("g").selectAll("rect")
    .data(values)
    .join("rect")
    .attr("x", d => xSide(d))
    .attr("width", d => xSide(0) - xSide(d))
    .attr("y", (d, i) => y((i + 1) * bin))
    .attr("height", y(0) - y(bin))
    .attr("fill", color)
    .attr("fill-opacity", 0.5)
    .attr("stroke", "#fff")
    .attr("stroke-width", 6);
}
barsY(futureHistY, futureBinY, "#1f77b4");
barsY(presentHistY, presentBinY, "#ff0000");

const kdeY = d3.line().x(d => xSide(d[0])).y(d => y(d[1])).curve(d3.curveCatmullRom);
sideLayer.append("path").attr("d", kdeY(futureKdeY)).attr("fill", "none").attr("stroke", "#1f77b4").attr("stroke-width", LINE);
sideLayer.append("path").attr("d", kdeY(presentKdeY)).attr("fill", "none").attr("stroke", "#ff0000").attr("stroke-width", LINE);

// ---- axes ----
function styleAxis(g, dy) {
  g.select(".domain").remove();
  g.selectAll("line").attr("stroke", "#000").attr("stroke-width", SPINE);
  g.selectAll("text").attr("font-family", "DejaVu Sans").attr("font-size", FONT).attr("fill", "#000").attr("dy", dy);
}
function addSpines(b) {
  svg.append("rect")
    .attr("x", b.left).attr("y", b.top)
    .attr("width", b.right - b.left).attr("height", b.bottom - b.top)
    .attr("fill", "none").attr("stroke", "#000").attr("stroke-width", SPINE);
}
const fmtMain = d3.format(".1f");
const fmtX = d => d === 0 ? "0" : d3.format(".3f")(d / 1000);

svg.append("g").attr("transform", `translate(${main.left},0)`)
  .call(d3.axisLeft(y).tickValues([0, 0.5, 1, 1.5]).tickFormat(fmtMain).tickSize(TICK).tickPadding(PAD).offset(0))
  .call(styleAxis, "0.365em");
svg.append("g").attr("transform", `translate(0,${main.bottom})`)
  .call(d3.axisBottom(x).tickValues([0, 5, 10]).tickFormat("").tickSize(TICK).offset(0))
  .call(styleAxis, "0");
svg.append("g").attr("transform", `translate(${lower.left},0)`)
  .call(d3.axisLeft(yLower).tickValues([0, 200, 400]).tickFormat(d3.format("d")).tickSize(TICK).tickPadding(PAD).offset(0))
  .call(styleAxis, "0.365em");
svg.append("g").attr("transform", `translate(0,${lower.bottom})`)
  .call(d3.axisBottom(x).tickValues([0, 5, 10]).tickFormat(fmtX).tickSize(TICK).tickPadding(PAD).offset(0))
  .call(styleAxis, "0.78em");
svg.append("g").attr("transform", `translate(${side.right},0)`)
  .call(d3.axisRight(y).tickValues([0, 0.5, 1, 1.5]).tickFormat(fmtMain).tickSize(TICK).tickPadding(PAD).offset(0))
  .call(styleAxis, "0.365em");
svg.append("g").attr("transform", `translate(0,${side.bottom})`)
  .call(d3.axisBottom(xSide).tickValues([2.5, 0]).tickFormat(d => d === 0 ? "0" : d).tickSize(TICK).tickPadding(PAD).offset(0))
  .call(styleAxis, "0.78em");
[main, lower, side].forEach(addSpines);

// ---- axis labels ----
function label(tx, ty, rot, before, sup, after) {
  const t = svg.append("text")
    .attr("transform", `translate(${tx},${ty}) rotate(${rot})`)
    .attr("text-anchor", "middle")
    .attr("font-size", FONT);
  t.append("tspan").text(before);
  if (sup) {
    t.append("tspan").attr("dy", -33).attr("font-size", FONT * 0.7).text(sup);
    t.append("tspan").attr("dy", 33).text(after);
  }
}
label(205, 1413, -90, "Lightning flash rate (number per km", "2", " per month)");
label(3481, 1413, 90, "Lightning flash rate (number per km", "2", " per month)");
label(1441, 3453, 0, "CAPE × Precip (W m", "2", ")");
label(183, 2844, -90, "Norm. dist.");
label(2882, 2630, 0, "Norm. dist.");

// ---- legends ----
const legendMain = svg.append("g");
fitLabels.forEach((name, i) => {
  const cy = 542 + i * 122.6;
  legendMain.append("line")
    .attr("x1", 525).attr("x2", 693).attr("y1", cy).attr("y2", cy)
    .attr("stroke", fitColors[i]).attr("stroke-width", LINE)
    .attr("stroke-dasharray", i < 5 ? DASH : null)
    .attr("stroke-linecap", i < 5 ? "butt" : "square");
  legendMain.append("text").attr("x", 758).attr("y", cy + 29).attr("font-size", FONT).text(name);
});
const legendLower = svg.append("g");
periodLabels.forEach((name, i) => {
  const cy = 2594 + i * 123;
  legendLower.append("line")
    .attr("x1", 1623).attr("x2", 1803).attr("y1", cy).attr("y2", cy)
    .attr("stroke", periodColors[i]).attr("stroke-width", LINE);
  legendLower.append("text").attr("x", 1862).attr("y", cy + 29).attr("font-size", FONT).text(name);
});

// platform watermark, bottom right corner
svg.append("text")
  .attr("x", 3585).attr("y", 3588)
  .attr("text-anchor", "end")
  .attr("font-family", "Noto Sans CJK SC")
  .attr("font-size", 18)
  .style("fill", "#a0a0a0")
  .text("CSDN @森气笔记");
</script>
</body>
</html>
